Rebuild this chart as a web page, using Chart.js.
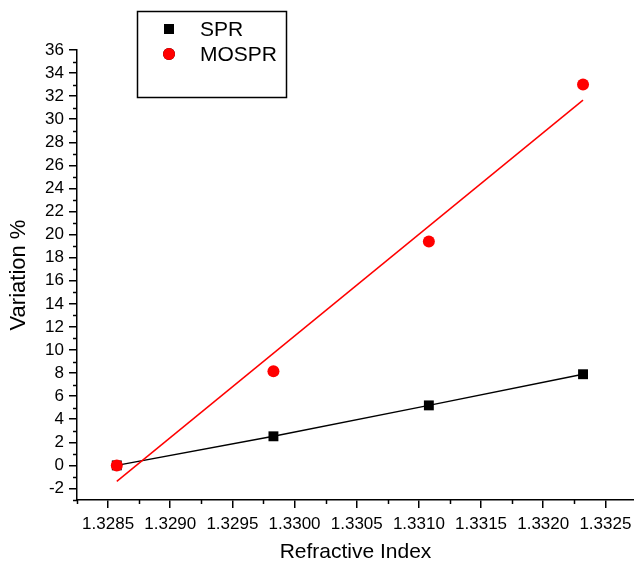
<!DOCTYPE html>
<html>
<head>
<meta charset="utf-8">
<script src="https://cdn.jsdelivr.net/npm/chart.js@4/dist/chart.umd.min.js"></script>
<style>
  html, body { margin: 0; padding: 0; background: #fff; overflow: hidden; }
  #wrap { width: 634px; height: 565px; position: relative; }
  #c { display: block; }
</style>
</head>
<body>
<div id="wrap"><canvas id="c"></canvas></div>
<script>
// values
const refractive_index = [1.32857, 1.32983, 1.33108, 1.33232];
const spr_values = [0.0, 2.52, 5.2, 7.9];
const mospr_values = [0.0, 8.15, 19.4, 33.0];
// linear fit of MOSPR, end points
const fit_x = [1.32857, 1.33232];
const fit_y = [-1.39, 31.66];

const series_labels = ['SPR', 'MOSPR'];
const series_colors = ['#000000', '#ff0000'];

const FONT = "'Liberation Sans', Arial, sans-serif";

function toPoints(xs, ys) {
  return xs.map((x, i) => ({x: x, y: ys[i]}));
}

// Origin-style minor ticks between major ones, outside the axis
const minorTicks = {
  id: 'minorTicks',
  afterDraw(chart) {
    const ctx = chart.ctx;
    ctx.save();
    ctx.strokeStyle = '#000';
    ctx.lineWidth = 1.5;
    for (const id of ['x', 'y']) {
      const scale = chart.scales[id];
      const ticks = scale.ticks.map(t => t.value);
      if (ticks.length < 2) continue;
      const step = ticks[1] - ticks[0];
      const vals = [ticks[0] - step / 2];
      for (const v of ticks) vals.push(v + step / 2);
      for (const v of vals) {
        if (v < scale.min - 1e-9 || v > scale.max + 1e-9) continue;
        const p = Math.round(scale.getPixelForValue(v)) + 0.5;
        ctx.beginPath();
        if (id === 'x') {
          ctx.moveTo(p, scale.top);
          ctx.lineTo(p, scale.top + 4);
        } else {
          ctx.moveTo(scale.right, p);
          ctx.lineTo(scale.right - 4, p);
        }
        ctx.stroke();
      }
    }
    ctx.restore();
  }
};

// boxed legend like the original figure
const boxLegend = {
  id: 'boxLegend',
  afterDraw(chart) {
    const ctx = chart.ctx;
    ctx.save();
    ctx.strokeStyle = '#000';
    ctx.lineWidth = 1.5;
    ctx.strokeRect(137.5, 11.5, 149, 86);
    ctx.font = '21px ' + FONT;
    ctx.textBaseline = 'middle';
    ctx.textAlign = 'left';
    series_labels.forEach((label, i) => {
      const y = 29 + i * 25;
      const ds = chart.data.datasets[i];
      Chart.helpers.drawPoint(ctx, {
        pointStyle: ds.pointStyle,
        radius: ds.pointRadius,
        borderWidth: 0
      }, 169, y);
      ctx.fillStyle = ds.backgroundColor;
      ctx.fill();
      ctx.fillStyle = '#000';
      ctx.fillText(label, 200, y + 1);
    });
    ctx.restore();
  }
};

const ctx = document.getElementById('c').getContext('2d');

new Chart(ctx, {
  type: 'scatter',
  data: {
    datasets: [
      {
        label: series_labels[0],
        data: toPoints(refractive_index, spr_values),
        showLine: true,
        borderColor: series_colors[0],
        backgroundColor: series_colors[0],
        borderWidth: 1.5,
        pointStyle: 'rect',
        pointRadius: 7,
        pointBorderWidth: 0,
        order: 2
      },
      {
        label: series_labels[1],
        data: toPoints(refractive_index, mospr_values),
        showLine: false,
        borderColor: series_colors[1],
        backgroundColor: series_colors[1],
        pointStyle: 'circle',
        pointRadius: 6,
        pointBorderWidth: 0,
        order: 1
      },
      {
        label: 'fit',
        data: toPoints(fit_x, fit_y),
        showLine: true,
        borderColor: series_colors[1],
        borderWidth: 1.5,
        pointRadius: 0,
        order: 0
      }
    ]
  },
  options: {
    responsive: true,
    maintainAspectRatio: false,
    animation: false,
    layout: { autoPadding: false, padding: { top: 50, right: 0, left: 0, bottom: 0 } },
    plugins: {
      legend: { display: false },
      tooltip: { enabled: false }
    },
    scales: {
      x: {
        type: 'linear',
        min: 1.32825,
        max: 1.33273,
        grid: { drawOnChartArea: false, drawTicks: true, tickLength: 8, color: '#000', lineWidth: 1.5 },
        border: { display: true, color: '#000', width: 1.5 },
        ticks: {
          stepSize: 0.0005,
          includeBounds: false,
          autoSkip: false,
          maxRotation: 0,
          padding: 6,
          color: '#000',
          font: { family: FONT, size: 17 },
          callback: v => v.toFixed(4)
        },
        title: {
          display: true,
          text: 'Refractive Index',
          color: '#000',
          font: { family: FONT, size: 21 },
          padding: { top: 0, bottom: 0 }
        },
        afterFit: s => { s.height = 65; s.paddingRight = 0; s.paddingLeft = 0; }
      },
      y: {
        type: 'linear',
        min: -3,
        max: 36,
        grid: { drawOnChartArea: false, drawTicks: true, tickLength: 8, color: '#000', lineWidth: 1.5 },
        border: { display: true, color: '#000', width: 1.5 },
        ticks: {
          stepSize: 2,
          includeBounds: false,
          autoSkip: false,
          padding: 5,
          color: '#000',
          font: { family: FONT, size: 17 }
        },
        title: {
          display: true,
          text: 'Variation %',
          color: '#000',
          font: { family: FONT, size: 22 },
          padding: { top: 6, bottom: 0 }
        },
        afterFit: s => { s.width = 77; s.paddingTop = 0; s.paddingBottom = 0; }
      }
    }
  },
  plugins: [minorTicks, boxLegend]
});
</script>
</body>
</html>
